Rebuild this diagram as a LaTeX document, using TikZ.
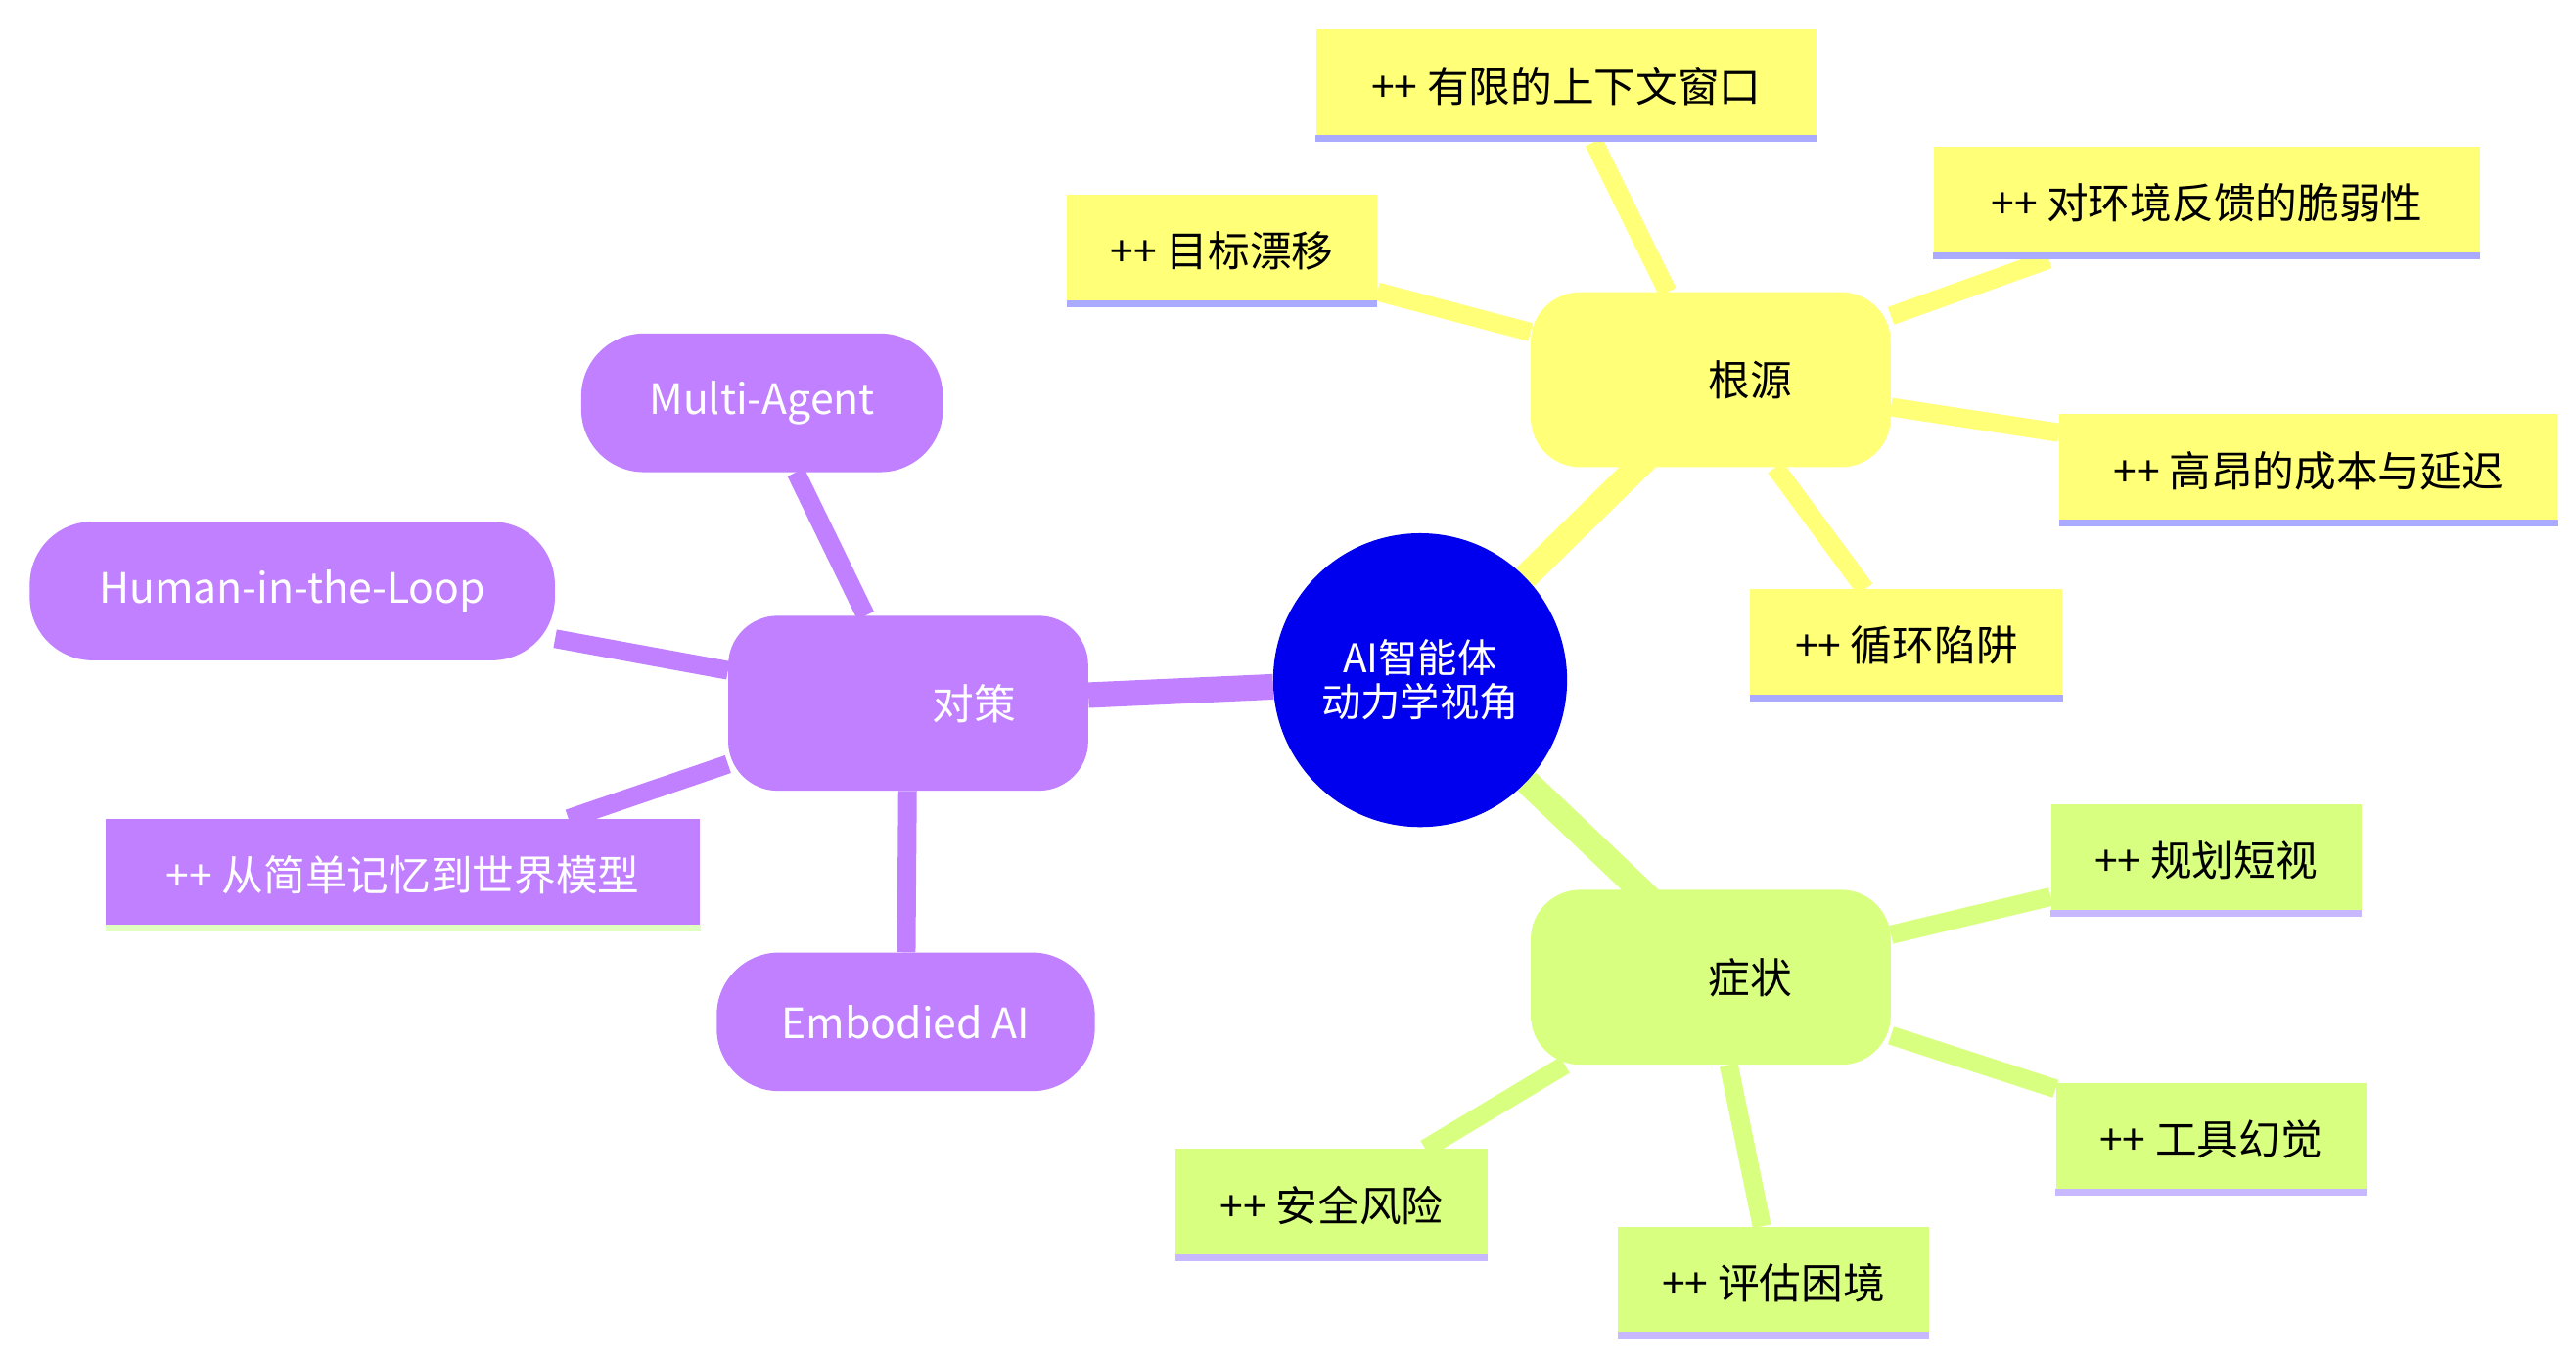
\documentclass[tikz,border=0pt]{standalone}
\usepackage{fontspec}
\setmainfont{Noto Sans CJK SC}
\usetikzlibrary{backgrounds}
\definecolor{cyel}{HTML}{FFFF78}
\definecolor{cgrn}{HTML}{D9FF80}
\definecolor{cpur}{HTML}{C080FF}
\definecolor{cblu}{HTML}{0000EE}
\definecolor{blav}{HTML}{AAAAFF}
\definecolor{glav}{HTML}{C8B8FF}
\definecolor{pgrn}{HTML}{E0FFC0}
\tikzset{
  x=0.05cm,y=-0.05cm,
  every node/.style={font=\fontsize{36}{44}\selectfont, inner sep=0pt},
  mainbox/.style={rounded corners=1.5cm, minimum width=10.9cm, minimum height=5.3cm},
  leafbox/.style={rectangle, minimum height=3.4cm},
  roundbox/.style={rounded corners=1.9cm, minimum height=4.2cm, text=white},
  bigedge/.style={line width=22pt},
  leafedge/.style={line width=16pt},
}
\newcommand{\uline}[2]{\draw[line width=6pt,#2] ([yshift=3pt]#1.south west) -- ([yshift=3pt]#1.south east);}
\begin{document}
\begin{tikzpicture}
\useasboundingbox (0,0) rectangle (1560,824);
% center
\node[circle, fill=cblu, minimum size=8.9cm, text=white, align=center, font=\fontsize{34}{38}\selectfont] (c) at (860,412) {AI智能体\\动力学视角};
% roots
\node[mainbox, fill=cyel] (r) at (1036,230) {\hspace*{2.4cm}根源};
\node[leafbox, fill=cyel, minimum width=15.15cm] (r1) at (948.5,52) {++ 有限的上下文窗口};
\node[leafbox, fill=cyel, minimum width=16.55cm] (r2) at (1336.5,123) {++ 对环境反馈的脆弱性};
\node[leafbox, fill=cyel, minimum width=9.4cm] (r3) at (740,152) {++ 目标漂移};
\node[leafbox, fill=cyel, minimum width=15.1cm] (r4) at (1398,285) {++ 高昂的成本与延迟};
\node[leafbox, fill=cyel, minimum width=9.45cm] (r5) at (1154.5,391) {++ 循环陷阱};
\foreach \n in {r1,r2,r3,r4,r5} {\uline{\n}{blav}}
% symptoms
\node[mainbox, fill=cgrn] (s) at (1036,592) {\hspace*{2.4cm}症状};
\node[leafbox, fill=cgrn, minimum width=9.4cm] (s1) at (1336,521) {++ 规划短视};
\node[leafbox, fill=cgrn, minimum width=9.4cm] (s2) at (1339,690) {++ 工具幻觉};
\node[leafbox, fill=cgrn, minimum width=9.45cm] (s3) at (806.5,730) {++ 安全风险};
\node[leafbox, fill=cgrn, minimum width=9.4cm] (s4) at (1074,777) {++ 评估困境};
\foreach \n in {s1,s2,s3,s4} {\uline{\n}{glav}}
% countermeasures
\node[mainbox, fill=cpur, text=white] (m) at (550,426) {\hspace*{4cm}对策};
\node[roundbox, fill=cpur, minimum width=10.95cm] (m1) at (461.5,244) {Multi-Agent};
\node[roundbox, fill=cpur, minimum width=15.9cm] (m2) at (177,358) {Human-in-the-Loop};
\node[leafbox, fill=cpur, text=white, minimum width=18cm] (m3) at (244,530) {++ 从简单记忆到世界模型};
\uline{m3}{pgrn}
\node[roundbox, fill=cpur, minimum width=11.45cm] (m4) at (548.5,619) {Embodied AI};
\begin{scope}[on background layer]
  \draw[bigedge, cyel] (c) -- (1010,265);
  \draw[bigedge, cgrn] (c) -- (1010,555);
  \draw[bigedge, cpur] (c) -- (m);
  \foreach \n in {r1,r2,r3,r4,r5} {\draw[leafedge, cyel] (r) -- (\n);}
  \foreach \n in {s1,s2,s3,s4} {\draw[leafedge, cgrn] (s) -- (\n);}
  \foreach \n in {m1,m2,m3,m4} {\draw[leafedge, cpur] (m) -- (\n);}
\end{scope}
\end{tikzpicture}
\end{document}
